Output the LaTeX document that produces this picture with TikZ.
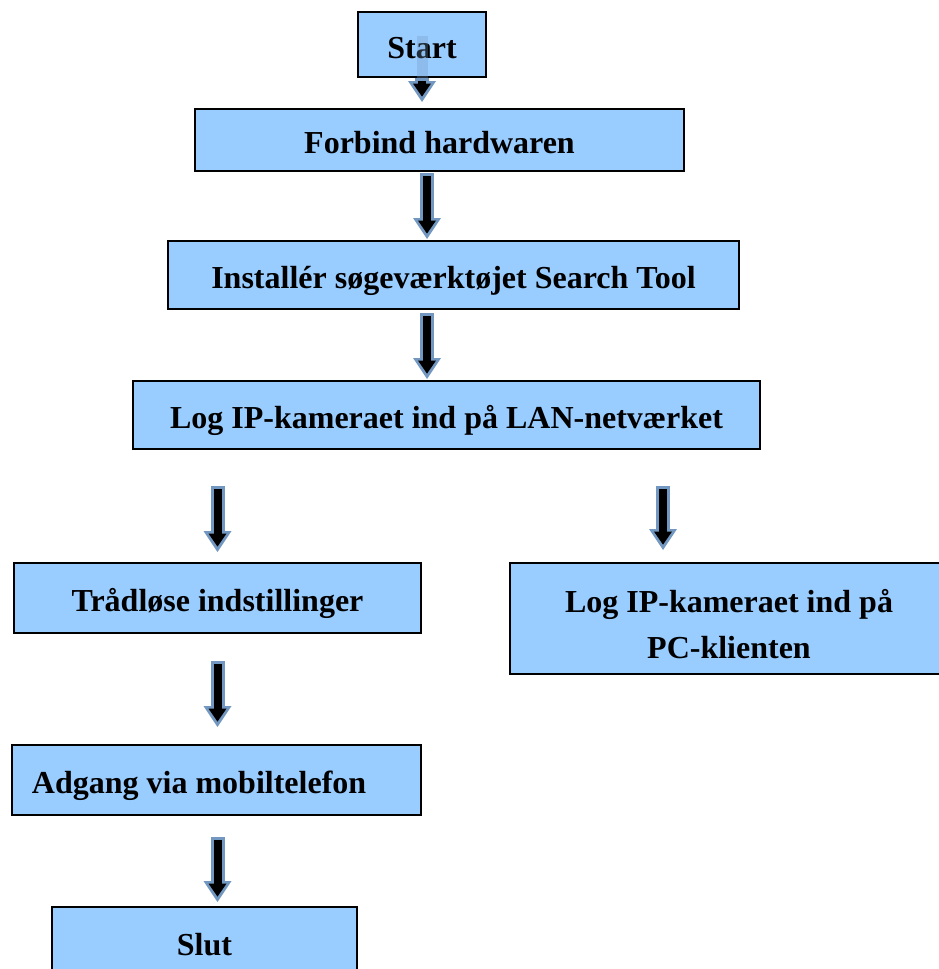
\documentclass[tikz,border=0pt]{standalone}
\usepackage{fontspec}
\setmainfont{Liberation Serif}
\usetikzlibrary{arrows.meta}

\definecolor{boxblue}{RGB}{153,204,255}
\definecolor{arrowblue}{RGB}{114,152,194}

\tikzstyle{step box} = [rectangle, draw, line width=1pt, fill=boxblue, font=\bfseries\fontsize{16}{23}\selectfont, align=center, inner sep=0pt, text height=13.5pt, text depth=0pt]
\tikzstyle{arrow out} = [draw=arrowblue, line width=7pt, -{Triangle[length=10.5pt, width=14pt, line width=0pt]}]
\tikzstyle{arrow in} = [draw=black, line width=4pt, -{Triangle[length=6.5pt, width=9pt, line width=0pt]}]

% block arrow: from, to, shorten at start, shorten at end
\newcommand{\flowarrow}[4]{%
  \draw[arrow out, shorten <=#3, shorten >=#4] (#1) -- (#2);
  \draw[arrow in, shorten <=#3+1.5pt, shorten >=#4+2.7pt] (#1) -- (#2);}

\begin{document}
\begin{tikzpicture}[x=0.5pt, y=-0.5pt]
  \useasboundingbox (0,0) rectangle (938,969);
  \node[step box, minimum width=64pt, minimum height=32.5pt] (start) at (422,44.5) {Start};
  \node[step box, minimum width=244.5pt, minimum height=31pt] (forbind) at (439.5,140) {Forbind hardwaren};
  \node[step box, minimum width=285.5pt, minimum height=34pt] (install) at (453.5,275) {Installér søgeværktøjet Search Tool};
  \node[step box, minimum width=313.5pt, minimum height=34pt] (lan) at (446.5,415) {Log IP-kameraet ind på LAN-netværket};
  \node[step box, minimum width=203.5pt, minimum height=35pt] (wifi) at (217.5,598) {Trådløse indstillinger};
  \node[step box, minimum width=219pt, minimum height=55.5pt, text height=39.5pt] (pc) at (729,618.5) {Log IP-kameraet ind på\\PC-klienten};
  \node[step box, minimum width=204.5pt, minimum height=35pt, text width=184.5pt, align=flush left] (mobil) at (216.5,780) {Adgang via mobiltelefon};
  \node[step box, minimum width=152.5pt, minimum height=34.5pt] (slut) at (204.5,941.5) {Slut};

  \coordinate (axis) at ([xshift=-6.25pt]forbind.south);
  \coordinate (pctop) at ([xshift=-33pt]pc.north);

  % faint shaft showing through the start box
  \draw[draw=arrowblue, line width=5.5pt, opacity=0.3] (start.south) -- ([yshift=21pt]start.south);
  \flowarrow{start.south}{forbind.north -| start.south}{0pt}{3pt}
  \flowarrow{axis}{install.north -| axis}{0.5pt}{0.5pt}
  \flowarrow{install.south -| axis}{lan.north -| axis}{1.5pt}{0.5pt}
  \flowarrow{lan.south -| wifi.north}{wifi.north}{18pt}{5pt}
  \flowarrow{lan.south -| pctop}{pctop}{18pt}{6pt}
  \flowarrow{wifi.south}{mobil.north -| wifi.south}{13.5pt}{8.5pt}
  \flowarrow{mobil.south -| wifi.south}{slut.north -| wifi.south}{10.5pt}{2pt}
\end{tikzpicture}
\end{document}
